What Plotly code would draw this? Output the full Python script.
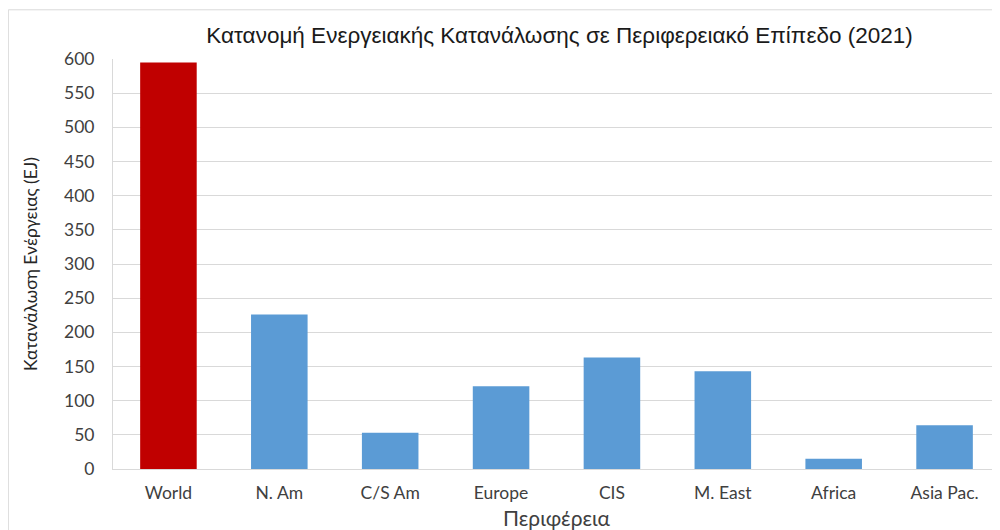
import plotly.graph_objects as go

regions = ['World', 'N. Am', 'C/S Am', 'Europe', 'CIS', 'M. East', 'Africa', 'Asia Pac.']
consumption = [595, 226, 53, 121, 163, 143, 15, 64]
bar_colors = ['#c00000'] + ['#5b9bd5'] * 7
y_ticks = list(range(0, 601, 50))

fig = go.Figure()
fig.add_trace(go.Bar(
    x=regions,
    y=consumption,
    marker=dict(color=bar_colors, line=dict(width=0)),
    width=0.51,
))

grey = '#d9d9d9'
# page body has an 8px margin, so the figure is sized to fit inside the window
fig.update_layout(
    width=992,
    height=522,
    margin=dict(l=105, r=0, t=51, b=61),
    paper_bgcolor='white',
    plot_bgcolor='white',
    showlegend=False,
    title=dict(
        text='Κατανομή Ενεργειακής Κατανάλωσης σε Περιφερειακό Επίπεδο (2021)',
        x=0.556, xanchor='center', y=0.948, yanchor='middle',
        font=dict(family='Liberation Sans, Arial', size=22.5, color='#1a1a1a'),
    ),
    xaxis=dict(
        title=dict(text='Περιφέρεια', standoff=9,
                   font=dict(family='Lato, Noto Sans', size=21, color='#404040')),
        tickfont=dict(family='Lato, Noto Sans', size=17.5, color='#404040'),
        showline=True, linecolor=grey, linewidth=1,
        showgrid=False, ticks='', ticklabelstandoff=8,
    ),
    yaxis=dict(
        title=dict(text='Κατανάλωση Ενέργειας (EJ)', standoff=21,
                   font=dict(family='Lato, Noto Sans', size=17.5, color='#262626')),
        tickfont=dict(family='Lato, Noto Sans', size=17.5, color='#404040'),
        range=[0, 600], tickvals=y_ticks,
        showgrid=True, gridcolor=grey, gridwidth=1,
        showline=True, linecolor=grey, linewidth=1,
        zeroline=False, ticks='', ticklabelstandoff=14,
    ),
)

# chart area border (cropped at the right and bottom in the original)
fig.add_shape(type='rect', xref='paper', yref='paper',
              x0=-0.118, x1=1.2, y0=-0.3, y1=1.12,
              line=dict(color=grey, width=1), fillcolor='rgba(0,0,0,0)',
              layer='below')

fig.write_html('out.html')
